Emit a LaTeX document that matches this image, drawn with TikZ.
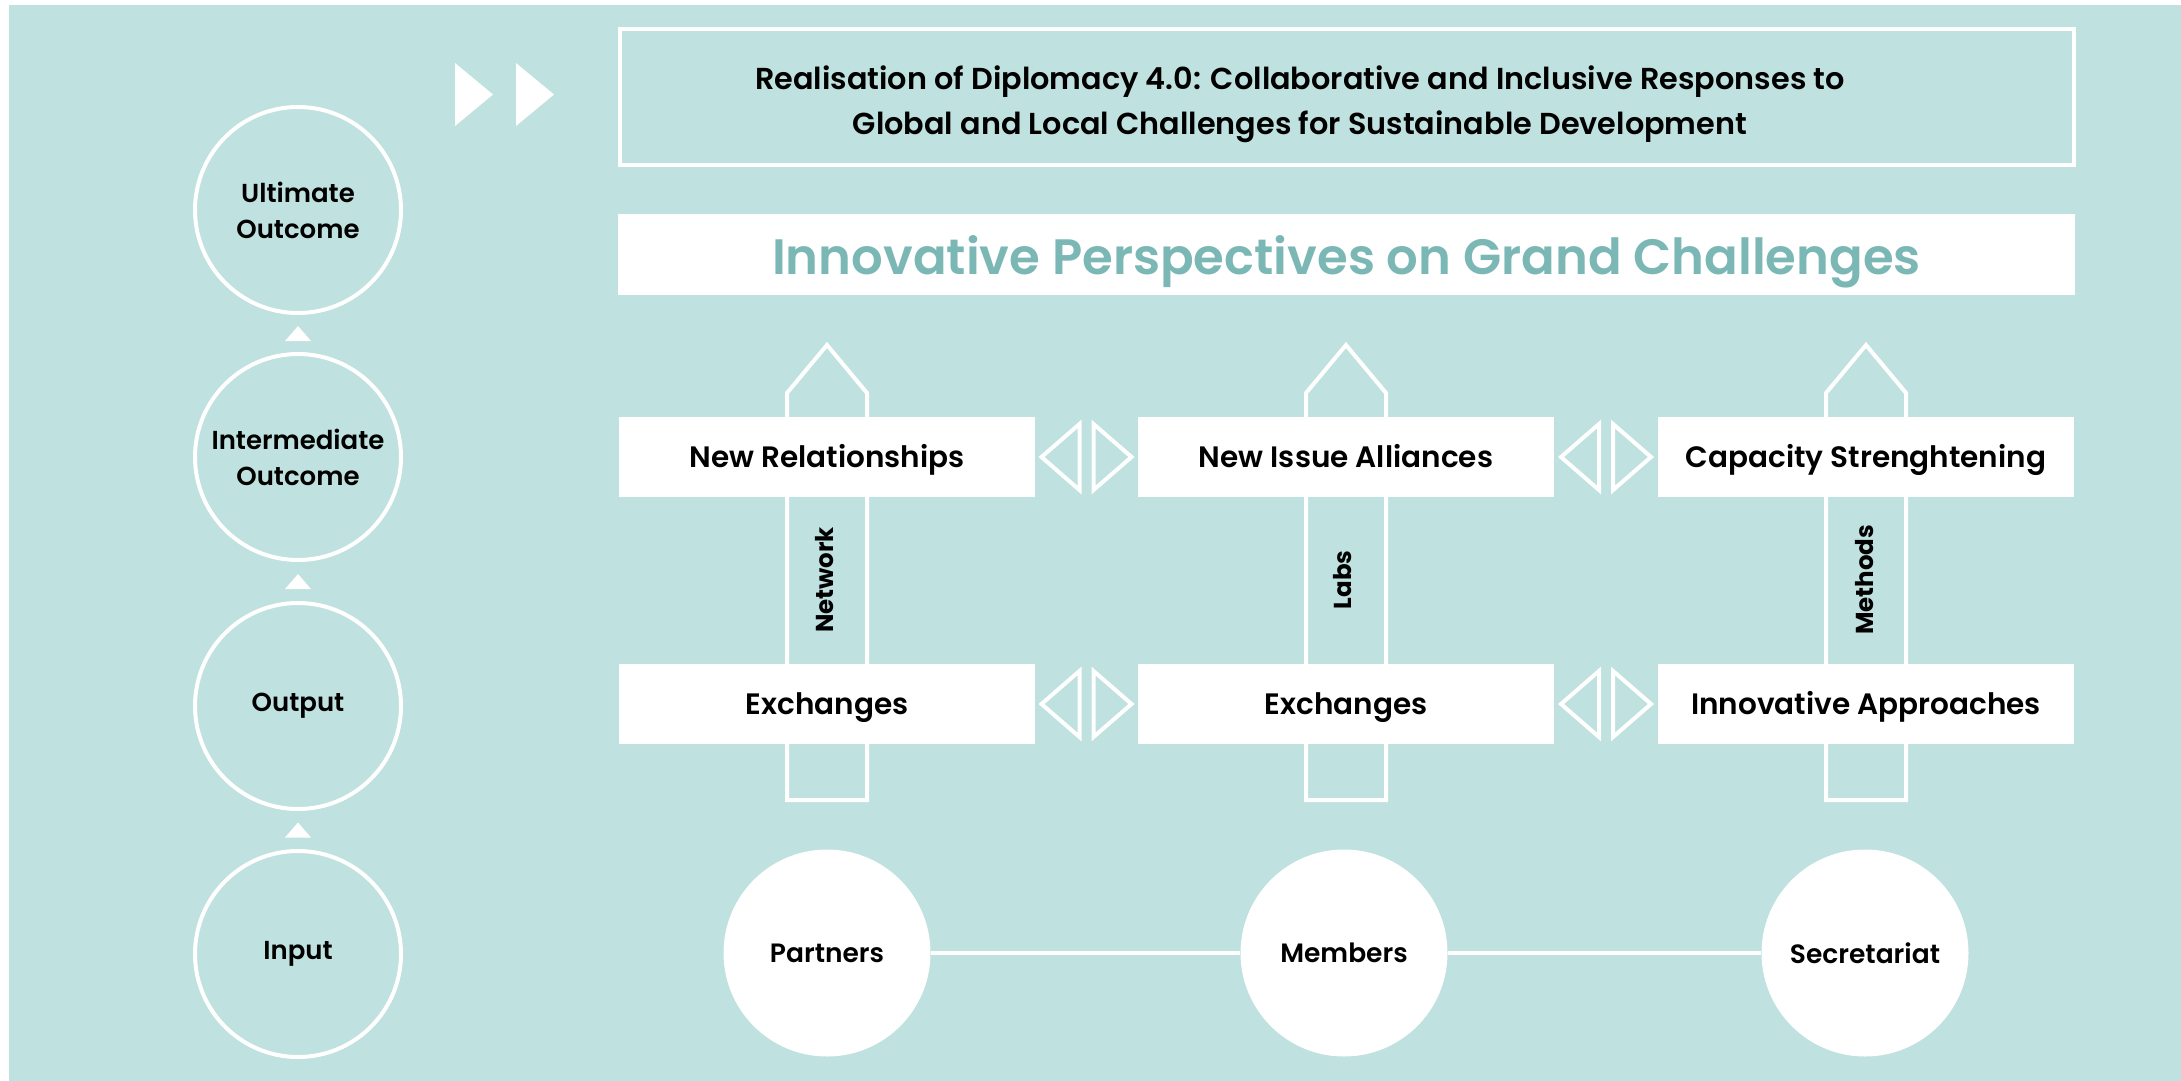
\documentclass[tikz,border=0pt]{standalone}
\usepackage{fontspec}
\setmainfont{Poppins}[UprightFont=* SemiBold, BoldFont=* Bold]
\usetikzlibrary{calc}
\definecolor{bg}{HTML}{BFE1DF}
\definecolor{tealtxt}{HTML}{7BB8B5}
\begin{document}
\begin{tikzpicture}[x=1pt,y=-1pt,
  wline/.style={draw=white, line width=4pt, line join=miter},
  lvl/.style={circle, draw=white, line width=4pt, minimum size=206pt, inner sep=0pt, align=center,
    font=\fontsize{26}{36}\selectfont},
  boxnode/.style={fill=white, minimum width=416pt, minimum height=80pt, inner sep=0pt,
    text height=21pt, text depth=0pt, font=\fontsize{29.5}{36}\selectfont},
  inpnode/.style={circle, fill=white, minimum size=207pt, inner sep=0pt,
    font=\fontsize{26.5}{32}\selectfont},
  vlabel/.style={rotate=90, font=\bfseries\fontsize{24.5}{30}\selectfont, inner sep=0pt},
  tri/.style={fill=white}
]
\useasboundingbox (0,0) rectangle (2181,1081);
\fill[bg] (9,5) rectangle (2181,1081);

% fast-forward marks
\fill[white] (455,63) -- (493,94.5) -- (455,126) -- cycle;
\fill[white] (516,63) -- (554,94.5) -- (516,126) -- cycle;

% header box
\node[draw=white, line width=4pt, minimum width=1454pt, minimum height=136pt, inner sep=0pt] (head) at (1347,97) {};
\node[align=center, font=\fontsize{30.3}{45}\selectfont, inner sep=0pt] (headtxt) at (1300,104)
  {Realisation of Diplomacy 4.0: Collaborative and Inclusive Responses to\\
   Global and Local Challenges for Sustainable Development};

% title bar
\node[fill=white, minimum width=1457pt, minimum height=81pt, inner sep=0pt,
  text height=39pt, text depth=0pt,
  font=\fontsize{49.7}{60}\selectfont, text=tealtxt] (title) at (1346.5,254.5)
  {Innovative Perspectives on Grand Challenges};

% level circles
\node[lvl] (ult) at (298,210) {Ultimate\\Outcome};
\node[lvl] (int) at (298,457) {Intermediate\\Outcome};
\node[lvl] (out) at (298,706) {Output};
\node[lvl] (inp) at (298,954) {Input};

\foreach \a/\b in {ult/int, int/out, out/inp}{
  \coordinate (m) at ($(\a.south)!0.5!(\b.north)$);
  \fill[white] ($(m)+(-13,7.5)$) -- ($(m)+(13,7.5)$) -- ($(m)+(0,-7.5)$) -- cycle;
}

% big arrows (behind boxes)
\foreach \c in {827,1346,1866}{
  \draw[wline] (\c-40,800) -- (\c-40,393) -- (\c,345) -- (\c+40,393) -- (\c+40,800) -- cycle;
}

% boxes
\node[boxnode] (r1) at (827,457) {New Relationships};
\node[boxnode] (r2) at (1346,457) {New Issue Alliances};
\node[boxnode] (r3) at (1866,457) {Capacity Strenghtening};
\node[boxnode] (o1) at (827,704) {Exchanges};
\node[boxnode] (o2) at (1346,704) {Exchanges};
\node[boxnode] (o3) at (1866,704) {Innovative Approaches};

% vertical labels
\node[vlabel] (lnet) at (825,580) {Network};
\node[vlabel] (llab) at (1343,580) {Labs};
\node[vlabel] (lmet) at (1865,580) {Methods};

% double triangles between boxes
\foreach \a/\b in {r1/r2, r2/r3, o1/o2, o2/o3}{
  \coordinate (g) at ($(\a.east)!0.5!(\b.west)$);
  \draw[wline] ($(g)+(-7,-33)$) -- ($(g)+(-45,0)$) -- ($(g)+(-7,33)$) -- cycle;
  \draw[wline] ($(g)+(7,-33)$) -- ($(g)+(45,0)$) -- ($(g)+(7,33)$) -- cycle;
}

% input circles
\node[inpnode] (par) at (827,953) {Partners};
\node[inpnode] (mem) at (1344,953) {Members};
\node[inpnode] (sec) at (1865,953) {Secretariat};
\draw[white, line width=3.5pt] (par.east) -- (mem.west);
\draw[white, line width=3.5pt] (mem.east) -- (sec.west);
\end{tikzpicture}
\end{document}
